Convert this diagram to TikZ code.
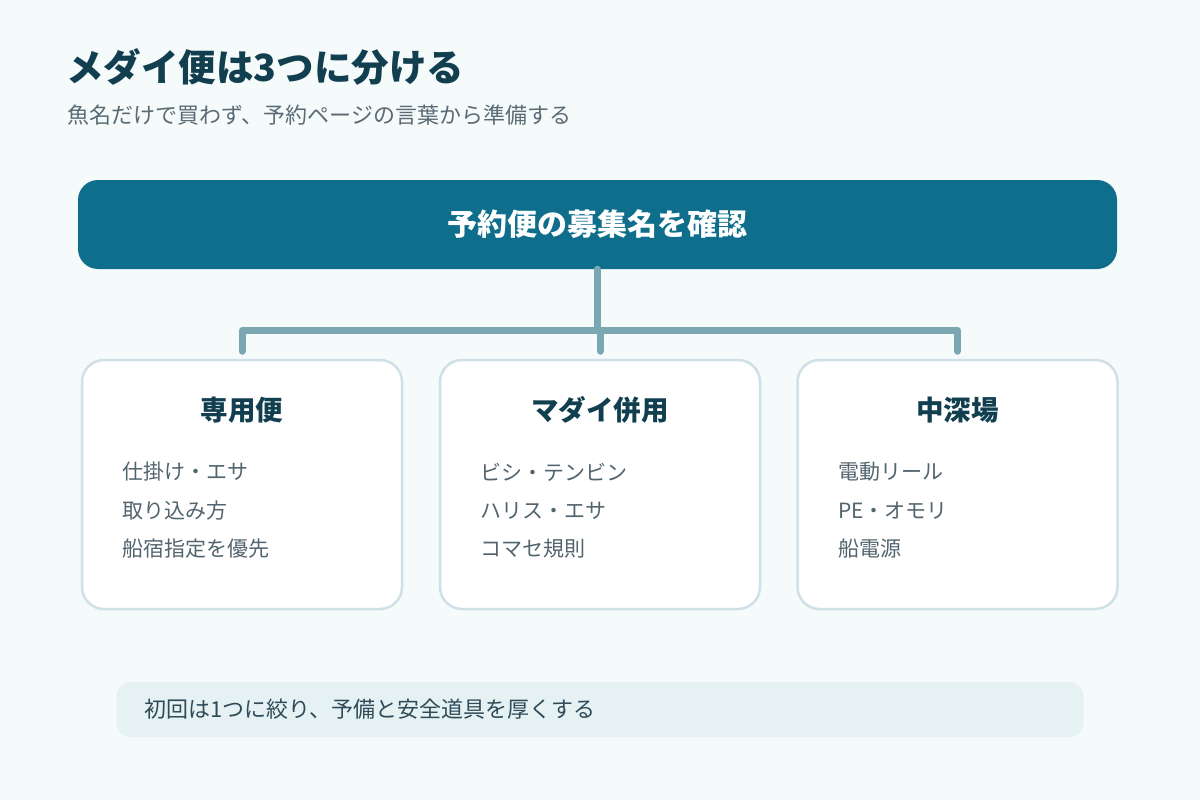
\documentclass[tikz,border=0pt]{standalone}
\usepackage{fontspec}
\setmainfont{Noto Sans CJK JP}
\usetikzlibrary{calc}
\definecolor{bgc}{HTML}{F5FAFB}
\definecolor{barc}{HTML}{0E6E8C}
\definecolor{connc}{HTML}{7BA7B3}
\definecolor{cardline}{HTML}{CFE1E7}
\definecolor{titlec}{HTML}{123F4F}
\definecolor{subc}{HTML}{5A6B74}
\definecolor{itemc}{HTML}{52646D}
\definecolor{notebg}{HTML}{E6F1F4}
\definecolor{notec}{HTML}{2E4B57}
\tikzset{
  headline/.style={anchor=west, inner sep=0pt, text=titlec, font=\fontsize{37.5}{45}\selectfont\bfseries},
  subline/.style={anchor=west, inner sep=0pt, text=subc, font=\fontsize{22}{26}\selectfont},
  barbox/.style={fill=barc, draw=none, rounded corners=20pt, minimum width=1039pt, minimum height=89pt, inner sep=0pt, text=white, font=\fontsize{30}{36}\selectfont\bfseries},
  conn/.style={draw=connc, line width=7pt, line cap=round, line join=round},
  cardbox/.style={fill=white, draw=cardline, line width=2.5pt, rounded corners=22pt, minimum width=320pt, minimum height=249pt, inner sep=0pt},
  cardtitle/.style={inner sep=0pt, text=titlec, font=\fontsize{27.5}{33}\selectfont\bfseries},
  itemtext/.style={anchor=west, inner sep=0pt, text=itemc, font=\fontsize{21}{25}\selectfont},
  notebox/.style={fill=notebg, draw=none, rounded corners=14pt, minimum width=967pt, minimum height=55pt, inner sep=0pt},
  notetext/.style={anchor=west, inner sep=0pt, text=notec, font=\fontsize{22}{26}\selectfont},
}
\begin{document}
\begin{tikzpicture}[x=1pt, y=-1pt]
\useasboundingbox (0,0) rectangle (1200,800);
\fill[bgc] (0,0) rectangle (1200,800);

\node[headline] (title) at (66,67) {メダイ便は3つに分ける};
\node[subline] (sub) at (67,115) {魚名だけで買わず、予約ページの言葉から準備する};

\node[barbox] (bar) at (597.5,224.5) {予約便の募集名を確認};

\node[cardbox] (c1) at (242,484.5) {};
\node[cardbox] (c2) at (600,484.5) {};
\node[cardbox] (c3) at (957.5,484.5) {};

\coordinate (hy) at (0,330.5);
\coordinate (t1) at ($(c1.north)+(0,-7.5)$);
\coordinate (t2) at ($(c2.north)+(0,-7.5)$);
\coordinate (t3) at ($(c3.north)+(0,-7.5)$);
\draw[conn] (bar.south) -- (bar.south |- hy);
\draw[conn] (t1) -- (t1 |- hy) -- (t3 |- hy) -- (t3);
\draw[conn] (t2 |- hy) -- (t2);

\node[cardtitle] (h1) at (242,410) {専用便};
\node[cardtitle] (h2) at (600,410) {マダイ併用};
\node[cardtitle] (h3) at (957.5,410) {中深場};

\node[itemtext] (a1) at (122,472) {仕掛け・エサ};
\node[itemtext] (a2) at (122,511) {取り込み方};
\node[itemtext] (a3) at (122,549) {船宿指定を優先};

\node[itemtext] (b1) at (480,472) {ビシ・テンビン};
\node[itemtext] (b2) at (480,511) {ハリス・エサ};
\node[itemtext] (b3) at (480,549) {コマセ規則};

\node[itemtext] (d1) at (838,472) {電動リール};
\node[itemtext] (d2) at (838,511) {PE・オモリ};
\node[itemtext] (d3) at (838,549) {船電源};

\node[notebox] (note) at (600,709.5) {};
\node[notetext] (notet) at (144,709.5) {初回は1つに絞り、予備と安全道具を厚くする};
\end{tikzpicture}
\end{document}
